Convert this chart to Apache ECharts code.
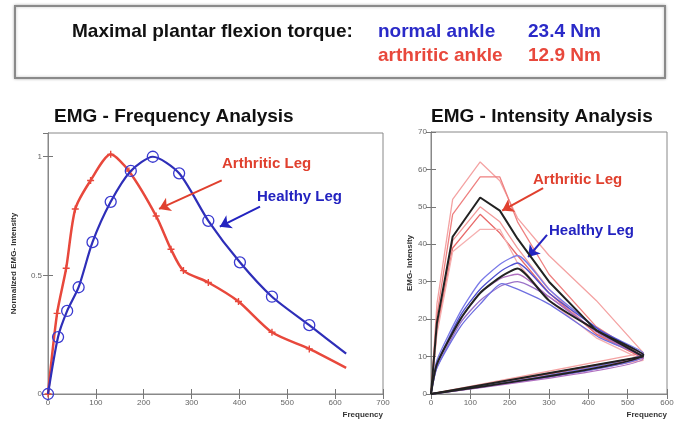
<!DOCTYPE html>
<html>
<head>
<meta charset="utf-8">
<script src="https://cdn.jsdelivr.net/npm/echarts@6/dist/echarts.min.js"></script>
<style>
  html, body { margin: 0; padding: 0; background: #fff; }
  #main { width: 678px; height: 423px; }
</style>
</head>
<body>
<div id="main"></div>
<script>
var myChart = echarts.init(document.getElementById('main'));

// --- EMG frequency analysis (normalized) ---
var freqHealthy = [0, 21, 40, 64, 93, 131, 173, 219, 274, 335, 401, 468, 546, 623];
var healthyNorm = [0, 0.24, 0.35, 0.45, 0.64, 0.81, 0.94, 1.0, 0.93, 0.73, 0.555, 0.41, 0.29, 0.17];
var freqArth = [0, 19, 38, 57, 89, 131, 169, 226, 257, 283, 335, 398, 468, 546, 623];
var arthNorm = [0, 0.34, 0.53, 0.78, 0.90, 1.01, 0.94, 0.75, 0.61, 0.52, 0.47, 0.39, 0.26, 0.19, 0.11];

// --- EMG intensity analysis (each trace closes back to the origin) ---
var freqArthInt = [0, 15, 55, 125, 175, 220, 300, 420, 540, 0];
var arthTraces = [
    [0, 24, 52, 62, 57, 47, 37, 25, 11, 0],
    [0, 21, 48, 58, 58, 46, 32, 18, 10, 0],
    [0, 18, 41, 50, 46, 39, 28, 16, 10, 0],
    [0, 17, 39, 48, 43, 37, 27, 16, 9.5, 0],
    [0, 16, 38, 44, 44, 35, 25, 15, 9, 0]
];
var arthMean = [0, 19, 42, 52.5, 49, 41.5, 30, 17, 10, 0];

var freqHealthyInt = [0, 15, 75, 125, 180, 220, 300, 430, 540, 0];
var healthyTraces = [
    [0, 9, 22, 30, 35, 37, 28, 17, 11, 0],
    [0, 8, 21, 28, 33, 35, 27, 17, 10.5, 0],
    [0, 7, 19, 25, 29, 30, 26, 16, 10, 0],
    [0, 7, 18, 24, 29.5, 28, 24, 15, 10, 0],
    [0, 8, 20, 27, 31, 32, 26, 16, 9.5, 0]
];
var healthyMean = [0, 8, 20, 27, 31.5, 33.5, 25, 16.5, 10.5, 0];

var arthColors = ['#f4a3a3', '#ee8080', '#f29a9a', '#e86a6a', '#f5b0b0'];
var healthyColors = ['#7a7ae8', '#5050d0', '#9a70c8', '#6f6fe0', '#b070c0'];

// annotation arrows, in data units [fromX, fromY, toX, toY]
var arrowsFreq = [[363, 0.90, 232, 0.78], [443, 0.79, 359, 0.705]];
var arrowsInt = [[285, 55, 181, 49], [295, 42.5, 247, 36.6]];
var arrowColors = ['#e0402e', '#2323c0'];

function zip(xs, ys) {
    return xs.map(function (x, i) { return [x, ys[i]]; });
}

function arrowSeries(xi, yi, arrows) {
    return arrows.map(function (a, i) {
        return {
            type: 'line', xAxisIndex: xi, yAxisIndex: yi, data: [], silent: true,
            color: arrowColors[i],
            markLine: {
                silent: true, animation: false,
                symbol: ['none', 'arrow'], symbolSize: 11,
                label: { show: false },
                itemStyle: { color: arrowColors[i] },
                lineStyle: { color: arrowColors[i], width: 2, type: 'solid' },
                data: [[{ coord: [a[0], a[1]] }, { coord: [a[2], a[3]] }]]
            }
        };
    });
}

var axisLine = { show: true, lineStyle: { color: '#888', width: 1 } };
var tick = { show: true, inside: true, length: 5, lineStyle: { color: '#777' } };
var tickLabel = { fontSize: 8, color: '#666', fontFamily: 'Liberation Sans' };
var axisName = { fontSize: 8, color: '#333', fontWeight: 'bold', fontFamily: 'Liberation Sans' };
var big = 'bold 19px "Liberation Sans"';
var note = 'bold 15px "Liberation Sans"';

var series = [];

// left chart
series.push({
    name: 'Arthritic Leg', type: 'line', xAxisIndex: 0, yAxisIndex: 0,
    smooth: 0.25,
    data: zip(freqArth, arthNorm).map(function (p, i) {
        return i === freqArth.length - 1 ? { value: p, symbol: 'none' } : p;
    }),
    symbol: 'path://M4,0h2v4h4v2h-4v4h-2v-4h-4v-2h4z', symbolSize: 7,
    itemStyle: { color: '#e8483c' },
    lineStyle: { color: '#e8483c', width: 2.5 },
    z: 3
});
series.push({
    name: 'Healthy Leg', type: 'line', xAxisIndex: 0, yAxisIndex: 0,
    smooth: 0.25,
    data: zip(freqHealthy, healthyNorm).map(function (p, i) {
        return i === freqHealthy.length - 1 ? { value: p, symbol: 'none' } : p;
    }),
    symbol: 'circle', symbolSize: 11,
    itemStyle: { color: 'rgba(0,0,0,0)', borderColor: '#3a3ad0', borderWidth: 1.3 },
    lineStyle: { color: '#2e2eb8', width: 2.2 },
    z: 4
});
series = series.concat(arrowSeries(0, 0, arrowsFreq));

// right chart
arthTraces.forEach(function (t, i) {
    series.push({
        type: 'line', xAxisIndex: 2, yAxisIndex: 2, data: zip(freqArthInt, t),
        symbol: 'none', lineStyle: { color: arthColors[i], width: 1.3 }
    });
});
healthyTraces.forEach(function (t, i) {
    series.push({
        type: 'line', xAxisIndex: 2, yAxisIndex: 2, data: zip(freqHealthyInt, t),
        smooth: 0.2, symbol: 'none', lineStyle: { color: healthyColors[i], width: 1.3 }
    });
});
series.push({
    type: 'line', xAxisIndex: 2, yAxisIndex: 2, data: zip(freqArthInt, arthMean),
    symbol: 'none', lineStyle: { color: '#222', width: 2 }, z: 5
});
series.push({
    type: 'line', xAxisIndex: 2, yAxisIndex: 2, data: zip(freqHealthyInt, healthyMean),
    smooth: 0.2, symbol: 'none', lineStyle: { color: '#222', width: 2 }, z: 5
});
series = series.concat(arrowSeries(2, 2, arrowsInt));

option = {
    backgroundColor: '#fff',
    animation: false,
    title: [
        { text: 'EMG - Frequency Analysis', left: 49, top: 102,
          textStyle: { fontSize: 19, fontWeight: 'bold', color: '#111', fontFamily: 'Liberation Sans' } },
        { text: 'EMG - Intensity Analysis', left: 426, top: 102,
          textStyle: { fontSize: 19, fontWeight: 'bold', color: '#111', fontFamily: 'Liberation Sans' } }
    ],
    graphic: [
        { type: 'rect', shape: { x: 15, y: 6, width: 650, height: 72 },
          style: { fill: '#fff', stroke: '#8a8a8a', lineWidth: 2, shadowBlur: 3, shadowColor: 'rgba(0,0,0,0.25)' } },
        { type: 'text', left: 72, top: 22,
          style: { text: 'Maximal plantar flexion torque:', fill: '#111', font: big } },
        { type: 'text', left: 378, top: 22,
          style: { text: 'normal ankle', fill: '#2a2ac8', font: big } },
        { type: 'text', left: 528, top: 22,
          style: { text: '23.4 Nm', fill: '#2a2ac8', font: big } },
        { type: 'text', left: 378, top: 46,
          style: { text: 'arthritic ankle', fill: '#e8483c', font: big } },
        { type: 'text', left: 528, top: 46,
          style: { text: '12.9 Nm', fill: '#e8483c', font: big } },
        { type: 'text', left: 222, top: 156, z: 10,
          style: { text: 'Arthritic Leg', fill: '#e0402e', font: note } },
        { type: 'text', left: 257, top: 189, z: 10,
          style: { text: 'Healthy Leg', fill: '#2323c0', font: note } },
        { type: 'text', left: 533, top: 172, z: 10,
          style: { text: 'Arthritic Leg', fill: '#e0402e', font: note } },
        { type: 'text', left: 549, top: 223, z: 10,
          style: { text: 'Healthy Leg', fill: '#2323c0', font: note } }
    ],
    grid: [
        { left: 48, right: 295, top: 133, bottom: 29, show: true, borderColor: '#888', borderWidth: 1 },
        { left: 48, right: 295, top: 133, bottom: 29 },
        { left: 431, right: 11, top: 132, bottom: 29, show: true, borderColor: '#888', borderWidth: 1 },
        { left: 431, right: 11, top: 132, bottom: 29 }
    ],
    xAxis: [
        { type: 'value', gridIndex: 0, min: 0, max: 700, interval: 100,
          axisLine: axisLine, axisTick: tick, splitLine: { show: false },
          axisLabel: Object.assign({ margin: 5 }, tickLabel),
          name: 'Frequency', nameLocation: 'end', nameGap: 0,
          nameTextStyle: Object.assign({ align: 'right', verticalAlign: 'top', padding: [17, 0, 0, 0] }, axisName) },
        { type: 'value', gridIndex: 1, min: 0, max: 700, interval: 100, position: 'top',
          axisLine: axisLine, axisTick: tick, splitLine: { show: false }, axisLabel: { show: false } },
        { type: 'value', gridIndex: 2, min: 0, max: 600, interval: 100,
          axisLine: axisLine, axisTick: tick, splitLine: { show: false },
          axisLabel: Object.assign({ margin: 5 }, tickLabel),
          name: 'Frequency', nameLocation: 'end', nameGap: 0,
          nameTextStyle: Object.assign({ align: 'right', verticalAlign: 'top', padding: [17, 0, 0, 0] }, axisName) },
        { type: 'value', gridIndex: 3, min: 0, max: 600, interval: 100, position: 'top',
          axisLine: axisLine, axisTick: tick, splitLine: { show: false }, axisLabel: { show: false } }
    ],
    yAxis: [
        { type: 'value', gridIndex: 0, min: 0, max: 1.1, interval: 0.5,
          axisLine: axisLine, axisTick: tick, splitLine: { show: false },
          axisLabel: Object.assign({ margin: 6, showMaxLabel: false }, tickLabel),
          name: 'Normalized EMG- Intensity', nameLocation: 'middle', nameGap: 30, nameRotate: 90,
          nameTextStyle: axisName },
        { type: 'value', gridIndex: 1, min: 0, max: 1.1, interval: 0.5, position: 'right',
          axisLine: axisLine, axisTick: tick, splitLine: { show: false }, axisLabel: { show: false } },
        { type: 'value', gridIndex: 2, min: 0, max: 70, interval: 10,
          axisLine: axisLine, axisTick: tick, splitLine: { show: false },
          axisLabel: Object.assign({ margin: 4 }, tickLabel),
          name: 'EMG- Intensity', nameLocation: 'middle', nameGap: 15, nameRotate: 90,
          nameTextStyle: axisName },
        { type: 'value', gridIndex: 3, min: 0, max: 70, interval: 10, position: 'right',
          axisLine: axisLine, axisTick: tick, splitLine: { show: false }, axisLabel: { show: false } }
    ],
    series: series
};

myChart.setOption(option);
</script>
</body>
</html>
